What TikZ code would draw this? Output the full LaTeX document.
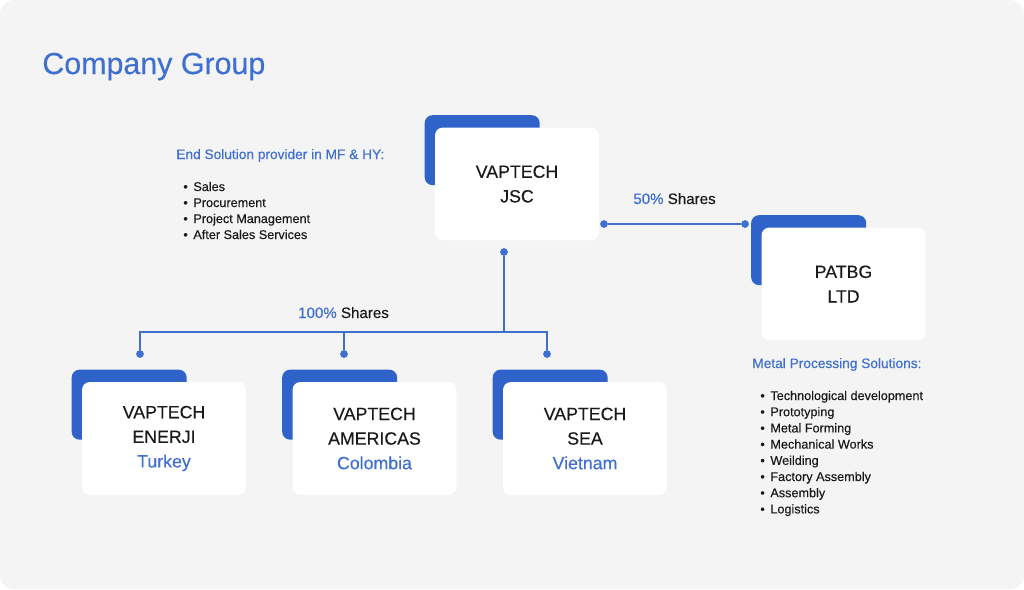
\documentclass[tikz,border=0pt]{standalone}
\usepackage{fontspec}
\setmainfont{Liberation Sans}[FakeBold=0.3]
\usepackage{xcolor}
\usepackage{tikz}
\usetikzlibrary{calc}
\usetikzlibrary{backgrounds}
\usetikzlibrary{positioning}
\definecolor{vblue}{HTML}{2F63CA}
\definecolor{vtext}{HTML}{3E6FD1}
\definecolor{vbg}{HTML}{F4F4F5}
\definecolor{vblack}{HTML}{1A1A1A}

\begin{document}
\begin{tikzpicture}[x=0.02cm,y=-0.02cm,
		company/.style={fill=white,rounded corners=4.5pt,minimum width=3.28cm,minimum height=2.26cm,align=center,font=\fontsize{10.1}{14}\selectfont,text=vblack},
		tab/.style={fill=vblue,rounded corners=4.5pt},
		dot/.style={circle,fill=vtext,inner sep=0pt,minimum size=4.4pt},
		link/.style={vtext,line width=0.9pt},
		item/.style={inner sep=0pt,anchor=base west,font=\fontsize{7.2}{9}\selectfont,text=vblack},
		heading/.style={inner sep=0pt,anchor=base west,font=\fontsize{7.8}{9}\selectfont,text=vtext},
		share/.style={inner sep=0pt,anchor=base,font=\fontsize{8.6}{10}\selectfont,text=vblack}]
		\useasboundingbox (0,0) rectangle (1024,589);
		\node[inner sep=0pt,anchor=base west,font=\fontsize{17.3}{20}\selectfont,text=vtext] (title) at (42,74) {Company Group};
		% companies
		\node[company] (jsc) at (517,184) {VAPTECH\\JSC};
		\node[company] (patbg) at (843.5,284) {PATBG\\LTD};
		\node[company] (enerji) at (164,438.5) {VAPTECH\\ENERJI\\\textcolor{vtext}{Turkey}};
		\node[company] (americas) at (374.5,438.5) {VAPTECH\\AMERICAS\\\textcolor{vtext}{Colombia}};
		\node[company] (sea) at (585,438.5) {VAPTECH\\SEA\\\textcolor{vtext}{Vietnam}};
		\begin{scope}[on background layer]
			\fill[vbg,rounded corners=8pt] (0,0) rectangle (1024,589);
			\foreach \n in {jsc,patbg,enerji,americas,sea}
			\fill[tab] ($(\n.north west)+(-10,-12)$) rectangle ($(\n.north west)+(105,58)$);
		\end{scope}
		% shares
		\node[dot] (d0) at (504,252) {};
		\node[dot] (d1) at (140,354) {};
		\node[dot] (d2) at (344,354) {};
		\node[dot] (d3) at (547,354) {};
		\coordinate (bus) at (504,332);
		\draw[link] (d0) -- (bus) -| (d1);
		\draw[link] (bus) -| (d2);
		\draw[link] (bus) -| (d3);
		\node[dot] (r0) at (604,224) {};
		\node[dot] (r1) at (745,224) {};
		\draw[link] (r0) -- (r1);
		\node[share] (s100) at (343.5,318) {\textcolor{vtext}{100\%} Shares};
		\node[share] (s50) at (674.5,204) {\textcolor{vtext}{50\%} Shares};
		% lists
		\node[heading] (endsol) at (176,159) {End Solution provider in MF \& HY:};
		\foreach \t [count=\i] in {Sales,Procurement,Project Management,After Sales Services}
		\node[item] (e\i) at (183,{191+16*(\i-1)}) {\textbullet\hspace{3.2pt}\t};
		\node[heading] (metal) at (752,368) {Metal Processing Solutions:};
		\foreach \t [count=\i] in {Technological development,Prototyping,Metal Forming,Mechanical Works,Weilding,Factory Assembly,Assembly,Logistics}
		\node[item] (m\i) at (760,{400+16.2*(\i-1)}) {\textbullet\hspace{3.2pt}\t};
	\end{tikzpicture}
\end{document}
